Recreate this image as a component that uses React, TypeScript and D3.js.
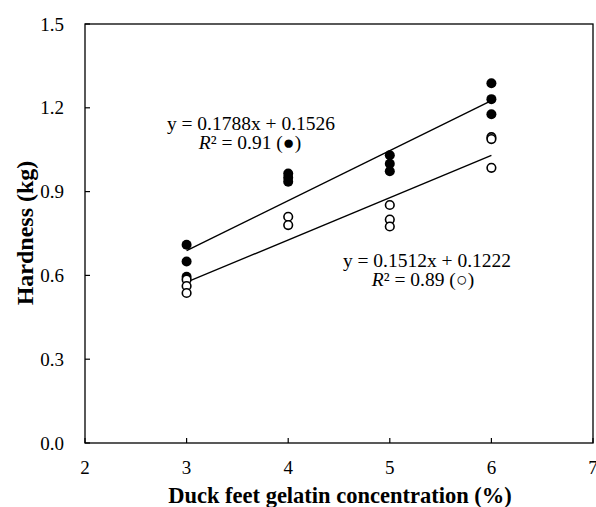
import React from 'react';
import * as d3 from 'd3';

// concentration (%) and hardness (kg)
const filledX = [3, 3, 3, 4, 4, 4, 5, 5, 5, 6, 6, 6];
const filledY = [0.71, 0.65, 0.595, 0.965, 0.95, 0.935, 1.03, 1.0, 0.973, 1.288, 1.231, 1.177];
const openX = [3, 3, 3, 4, 4, 5, 5, 5, 6, 6, 6];
const openY = [0.585, 0.562, 0.537, 0.81, 0.78, 0.852, 0.8, 0.775, 1.095, 1.088, 0.985];
const xTicks = [2, 3, 4, 5, 6, 7];
const yTicks = [0, 0.3, 0.6, 0.9, 1.2, 1.5];
const fitFilled = { slope: 0.1788, icpt: 0.1526 };
const fitOpen = { slope: 0.1512, icpt: 0.1222 };

const W = 596;
const H = 507;
const font = '"Liberation Serif", "Times New Roman", serif';

export default function App() {
  const x = d3.scaleLinear().domain([2, 7]).range([85, 593]);
  const y = d3.scaleLinear().domain([0, 1.5]).range([443, 24]);

  const fitPath = (f: { slope: number; icpt: number }) =>
    d3.line<number>()
      .x(d => x(d))
      .y(d => y(f.slope * d + f.icpt))([3, 6]) as string;

  return (
    <svg width={W} height={H} style={{ position: 'absolute', left: 0, top: 0, background: '#fff' }} fontFamily={font}>
      <rect x={0} y={0} width={W} height={H} fill="#fff" />
      {/* frame */}
      <rect x={x(2)} y={y(1.5)} width={x(7) - x(2)} height={y(0) - y(1.5)} fill="none" stroke="#000" strokeWidth={1.3} />
      {/* y ticks */}
      {yTicks.map(t => (
        <g key={'y' + t}>
          <line x1={x(2)} x2={x(2) + 5} y1={y(t)} y2={y(t)} stroke="#000" strokeWidth={1.2} />
          <text x={64} y={y(t)} dy="0.35em" textAnchor="end" fontSize={19}>{t.toFixed(1)}</text>
        </g>
      ))}
      {/* x ticks */}
      {xTicks.map(t => (
        <g key={'x' + t}>
          <line x1={x(t)} x2={x(t)} y1={y(0)} y2={y(0) - 5} stroke="#000" strokeWidth={1.2} />
          <text x={x(t)} y={474} textAnchor="middle" fontSize={19}>{t}</text>
        </g>
      ))}
      <text x={340} y={503} textAnchor="middle" fontSize={22.5} fontWeight="bold">Duck feet gelatin concentration (%)</text>
      <text transform="translate(33,233) rotate(-90)" textAnchor="middle" fontSize={24} fontWeight="bold">Hardness (kg)</text>

      {/* regression lines */}
      <path d={fitPath(fitFilled)} fill="none" stroke="#000" strokeWidth={1.4} />
      <path d={fitPath(fitOpen)} fill="none" stroke="#000" strokeWidth={1.4} />

      {/* points */}
      {filledX.map((v, i) => (
        <circle key={'f' + i} cx={x(v)} cy={y(filledY[i])} r={5} fill="#000" />
      ))}
      {openX.map((v, i) => (
        <circle key={'o' + i} cx={x(v)} cy={y(openY[i])} r={4.3} fill="#fff" stroke="#000" strokeWidth={1.6} />
      ))}

      {/* equations */}
      <text x={251} y={130} textAnchor="middle" fontSize={19.5}>y = 0.1788x + 0.1526</text>
      <text x={250} y={149} textAnchor="middle" fontSize={19.5}>
        <tspan fontStyle="italic">R</tspan>² = 0.91 (●)
      </text>
      <text x={427} y={267} textAnchor="middle" fontSize={19.5}>y = 0.1512x + 0.1222</text>
      <text x={423} y={286} textAnchor="middle" fontSize={19.5}>
        <tspan fontStyle="italic">R</tspan>² = 0.89 (○)
      </text>
    </svg>
  );
}
